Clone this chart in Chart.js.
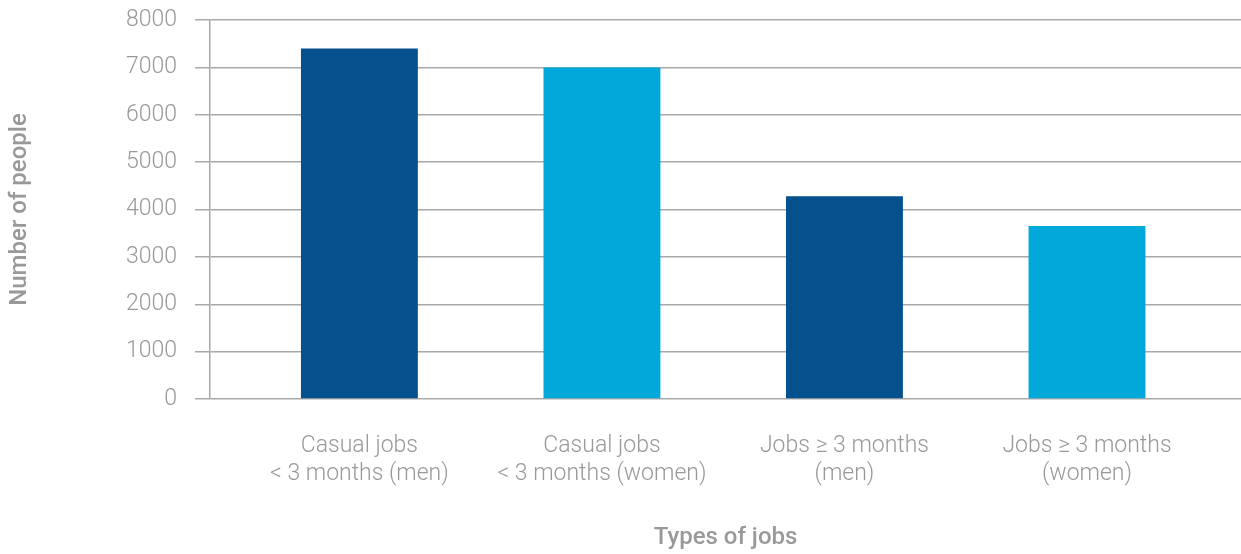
<!DOCTYPE html>
<html>
<head>
<meta charset="utf-8">
<script src="https://cdn.jsdelivr.net/npm/chart.js@4"></script>
<style>
  html, body { margin: 0; padding: 0; background: #fff; }
  #wrap { width: 1241px; height: 554px; }
</style>
</head>
<body>
<div id="wrap"><canvas id="jobsChart" width="1241" height="554"></canvas></div>
<script>
const categories = [
    ['Casual jobs', '< 3 months (men)'],
    ['Casual jobs', '< 3 months (women)'],
    ['Jobs \u2265 3 months', '(men)'],
    ['Jobs \u2265 3 months', '(women)']
];
const people = [7400, 7000, 4280, 3650];
const barColors = ['#05518e', '#00a9d9', '#05518e', '#00a9d9'];
const yTicks = [0, 1000, 2000, 3000, 4000, 5000, 6000, 7000, 8000];

const gray = '#999999';
const lineGray = '#a8a8a8';

document.addEventListener('DOMContentLoaded', function () {
    const canvas = document.getElementById('jobsChart');

    new Chart(canvas, {
        type: 'bar',
        data: {
            datasets: [{
                data: people.map((v, i) => ({ x: i, y: v })),
                backgroundColor: barColors,
                barPercentage: 0.482,
                categoryPercentage: 1,
                borderWidth: 0
            }]
        },
        options: {
            responsive: false,
            animation: false,
            layout: { padding: { top: 20, right: 0, left: 0, bottom: 0 } },
            plugins: {
                legend: { display: false },
                tooltip: { enabled: false }
            },
            scales: {
                x: {
                    type: 'linear',
                    offset: false,
                    min: -0.616,
                    max: 3.635,
                    afterBuildTicks: s => { s.ticks = categories.map((c, i) => ({ value: i })); },
                    afterFit: s => { s.height = 155; },
                    grid: { display: false, drawTicks: false },
                    border: { display: false },
                    ticks: {
                        color: gray,
                        padding: 33,
                        font: { family: 'Roboto', size: 23, weight: 300, lineHeight: 1.22 },
                        callback: val => categories[val]
                    },
                    title: {
                        display: true,
                        text: 'Types of jobs',
                        color: gray,
                        font: { family: 'Roboto', size: 24, weight: 500 },
                        padding: { top: 0, bottom: 2 }
                    }
                },
                y: {
                    min: 0,
                    max: 8000,
                    afterBuildTicks: s => { s.ticks = yTicks.map(v => ({ value: v })); },
                    afterFit: s => { s.width = 210; s.paddingTop = 0; s.paddingBottom = 0; },
                    grid: {
                        color: lineGray,
                        lineWidth: 1.5,
                        tickLength: 15
                    },
                    border: { display: true, color: lineGray, width: 1.5 },
                    ticks: {
                        color: gray,
                        padding: 18,
                        font: { family: 'Roboto', size: 23, weight: 300 },
                        callback: val => String(val)
                    },
                    title: {
                        display: true,
                        text: 'Number of people',
                        color: gray,
                        font: { family: 'Roboto', size: 24, weight: 500 },
                        padding: { top: 6, bottom: 0 }
                    }
                }
            }
        }
    });
});
</script>
</body>
</html>
